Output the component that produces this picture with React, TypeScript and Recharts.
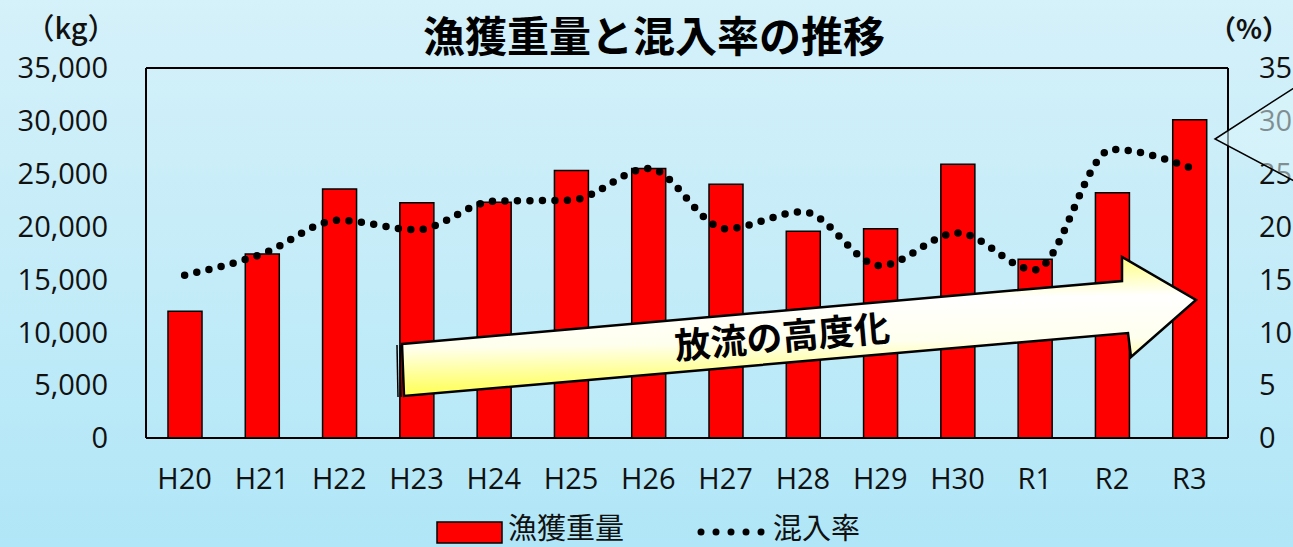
import React from "react";
import {
  ComposedChart,
  Bar,
  Line,
  XAxis,
  YAxis,
  CartesianGrid,
} from "recharts";

// 年度
const years = ["H20", "H21", "H22", "H23", "H24", "H25", "H26", "H27", "H28", "H29", "H30", "R1", "R2", "R3"];
// 漁獲重量 (kg)
const catchWeight = [12000, 17400, 23550, 22250, 22300, 25300, 25500, 24000, 19550, 19800, 25900, 16900, 23200, 30100];
// 混入率 (%)
const mixRate = [15.4, 17.4, 20.6, 19.7, 22.4, 22.5, 25.5, 19.8, 21.4, 16.3, 19.4, 15.9, 27.3, 25.6];

const leftTicks = [0, 5000, 10000, 15000, 20000, 25000, 30000, 35000];
const rightTicks = [0, 5, 10, 15, 20, 25, 30, 35];

const data = years.map((y, i) => ({ year: y, weight: catchWeight[i], rate: mixRate[i] }));

const tickFont = { fontFamily: "'Open Sans', sans-serif", fontSize: 29, fill: "#111" };
const jp = "'Noto Sans CJK JP', sans-serif";

export default function App() {
  return (
    <div
      style={{
        position: "fixed",
        left: 0,
        top: 0,
        width: 1293,
        height: 547,
        overflow: "hidden",
        background: "linear-gradient(180deg, #d5f1fa 0%, #c4ecf8 50%, #b0e6f7 100%)",
      }}
    >
      <ComposedChart
        width={1293}
        height={547}
        data={data}
        margin={{ top: 68, right: 0, left: 0, bottom: 49 }}
      >
        <CartesianGrid vertical={false} stroke="#000" strokeWidth={2} />
        <XAxis
          dataKey="year"
          height={60}
          tickLine={false}
          tickSize={0}
          tickMargin={30}
          axisLine={{ stroke: "#000", strokeWidth: 2 }}
          tick={tickFont}
          interval={0}
        />
        <YAxis
          yAxisId="left"
          width={146}
          domain={[0, 35000]}
          ticks={leftTicks}
          tickFormatter={(v: number) => v.toLocaleString("en-US")}
          tickLine={false}
          tickSize={0}
          tickMargin={38}
          axisLine={{ stroke: "#000", strokeWidth: 2 }}
          tick={tickFont}
        />
        <YAxis
          yAxisId="right"
          orientation="right"
          width={65}
          domain={[0, 35]}
          ticks={rightTicks}
          tickLine={false}
          tickSize={0}
          tickMargin={31}
          axisLine={{ stroke: "#000", strokeWidth: 2 }}
          tick={tickFont}
        />
        <Bar
          yAxisId="left"
          dataKey="weight"
          fill="#ff0000"
          stroke="#000"
          strokeWidth={1.5}
          barSize={34}
          isAnimationActive={false}
        />
        <Line
          yAxisId="right"
          type="monotone"
          dataKey="rate"
          stroke="#000"
          strokeWidth={7.5}
          strokeLinecap="round"
          strokeDasharray="0 12.5"
          dot={false}
          activeDot={false}
          isAnimationActive={false}
        />
      </ComposedChart>

      <svg
        width={1293}
        height={547}
        style={{ position: "absolute", left: 0, top: 0, pointerEvents: "none" }}
      >
        <defs>
          <linearGradient id="arrowFill" x1="0" y1="0" x2="0.08" y2="1">
            <stop offset="0%" stopColor="#ffff60" />
            <stop offset="35%" stopColor="#ffffff" />
            <stop offset="65%" stopColor="#ffffee" />
            <stop offset="100%" stopColor="#ffff50" />
          </linearGradient>
        </defs>

        <text x={654} y={33} textAnchor="middle" dominantBaseline="central"
          fontFamily={jp} fontWeight={700} fontSize={42} fill="#000">
          漁獲重量と混入率の推移
        </text>
        <text x={71} y={26} textAnchor="middle" dominantBaseline="central"
          fontFamily={jp} fontWeight={500} fontSize={29} fill="#111">
          （kg）
        </text>
        <text x={1289} y={27} textAnchor="end" dominantBaseline="central"
          fontFamily={jp} fontWeight={700} fontSize={27} fill="#111">
          （%）
        </text>

        {/* arrow */}
        <polygon
          points="402,344 1122,281 1122,257 1196,300 1131,357 1128,333 404,396"
          fill="url(#arrowFill)"
          stroke="#000"
          strokeWidth={2.5}
          strokeLinejoin="miter"
        />
        <line x1={397} y1={345} x2={398} y2={397} stroke="#000" strokeWidth={1.5} />
        <line x1={400} y1={345} x2={401} y2={397} stroke="#000" strokeWidth={1.5} />
        <text
          x={782}
          y={334}
          textAnchor="middle"
          dominantBaseline="central"
          transform="rotate(-5 782 334)"
          fontFamily={jp}
          fontWeight={700}
          fontSize={36}
          fill="#000"
        >
          放流の高度化
        </text>

        {/* callout */}
        <polygon
          points="1300,84 1215,139 1300,184"
          fill="rgba(220,245,252,0.55)"
          stroke="#000"
          strokeWidth={1.5}
        />

        {/* legend */}
        <rect x={437} y={522} width={65} height={21} fill="#ff0000" stroke="#000" strokeWidth={1.5} />
        <text x={508} y={526} dominantBaseline="central" fontFamily={jp} fontSize={29} fill="#111">
          漁獲重量
        </text>
        {[0, 1, 2, 3, 4].map((i) => (
          <circle key={i} cx={701 + i * 15} cy={532} r={3.5} fill="#000" />
        ))}
        <text x={773} y={526} dominantBaseline="central" fontFamily={jp} fontSize={29} fill="#111">
          混入率
        </text>
      </svg>
    </div>
  );
}
